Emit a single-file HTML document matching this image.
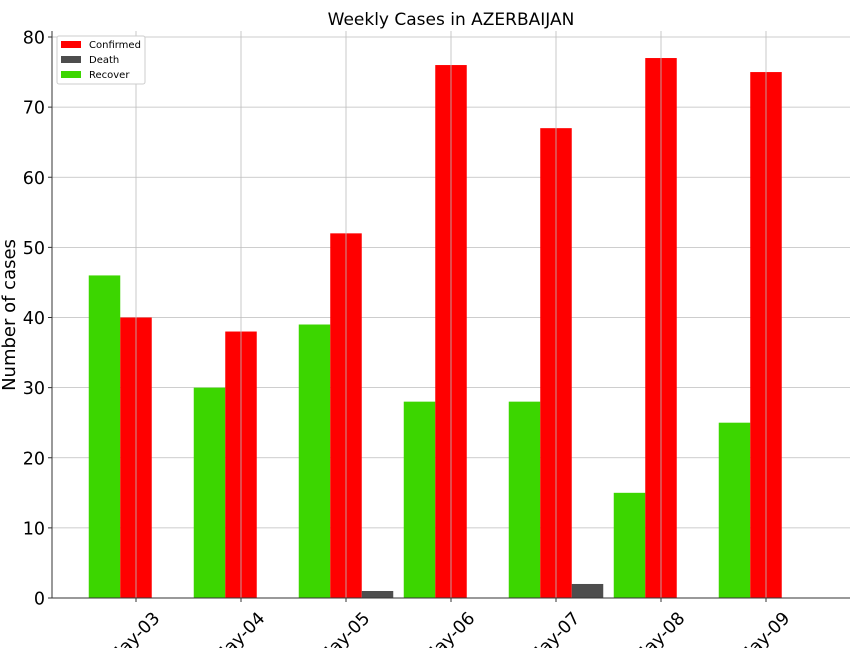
<!DOCTYPE html>
<html><head><meta charset="utf-8"><style>body{margin:0;background:#fff}svg{display:block;font-family:"DejaVu Sans","Liberation Sans",sans-serif}</style></head>
<body>
<svg id="chart" width="864" height="648">
<text x="451" y="25" text-anchor="middle" font-size="17">Weekly Cases in AZERBAIJAN</text>
<text transform="translate(15,315) rotate(-90)" text-anchor="middle" font-size="18">Number of cases</text>
<g id="grid"></g><g id="bars"></g><g id="axes"></g>
<g>
<rect x="57" y="36" width="88" height="48" fill="#fff" stroke="#ccc" rx="2"/>
<rect x="61" y="41" width="20" height="7" fill="#ff0000"/>
<text x="89" y="48" font-size="10">Confirmed</text>
<rect x="61" y="56" width="20" height="7" fill="#4d4d4d"/>
<text x="89" y="63" font-size="10">Death</text>
<rect x="61" y="71" width="20" height="7" fill="#3cd600"/>
<text x="89" y="78" font-size="10">Recover</text>
</g>
</svg>
<script>
const categories=["May-03","May-04","May-05","May-06","May-07","May-08","May-09"];
const recover=[46,30,39,28,28,15,25];
const confirmed=[40,38,52,76,67,77,75];
const death=[0,0,1,0,2,0,0];
const yTicks=[0,10,20,30,40,50,60,70,80];
const NS="http://www.w3.org/2000/svg";
const L=52,R=850,B=598,T=31;
const y=v=>B-v*561/80;
const x=i=>136+i*105;
const bw=31.5;
function mk(tag,attrs,parent,txt){const e=document.createElementNS(NS,tag);for(const k in attrs)e.setAttribute(k,attrs[k]);if(txt!==undefined)e.textContent=txt;parent.appendChild(e);return e;}
const grid=document.getElementById('grid'),bars=document.getElementById('bars'),axes=document.getElementById('axes');
yTicks.forEach(t=>{
 const g=mk('line',{x1:L,x2:R,y1:y(t),y2:y(t),stroke:'#bdbdbd','stroke-width':0.8},grid);
 
 
 mk('line',{x1:L-4,x2:L,y1:y(t),y2:y(t),stroke:'#333'},axes);
 const lb=mk('text',{x:L-7,y:y(t)+6.5,'text-anchor':'end','font-size':17.5},axes,t);
 
 
});
categories.forEach((c,i)=>{
 const cx=x(i);
 const sets=[[recover,'#3cd600',-1.5,'bar-recover'],[confirmed,'#ff0000',-0.5,'bar-confirmed'],[death,'#4d4d4d',0.5,'bar-death']];
 sets.forEach(([arr,col,off,name])=>{
  const v=arr[i];
  const r=mk('rect',{x:cx+off*bw,y:y(v),width:bw,height:B-y(v),fill:col},bars);
  
  
 });
 const g=mk('line',{x1:cx,x2:cx,y1:T,y2:B,stroke:'#bdbdbd','stroke-width':0.8},bars);
 
 
 mk('line',{x1:cx,x2:cx,y1:B,y2:B+4,stroke:'#333'},axes);
 const lb=mk('text',{transform:`translate(${cx+2},${B+44}) rotate(-45)`,'text-anchor':'middle','font-size':17.5},axes,c);
 
 
});
mk('line',{x1:L,x2:L,y1:T,y2:B,stroke:'#333','stroke-width':1},axes);
mk('line',{x1:L,x2:R,y1:B,y2:B,stroke:'#333','stroke-width':1},axes);
</script>
</body></html>
